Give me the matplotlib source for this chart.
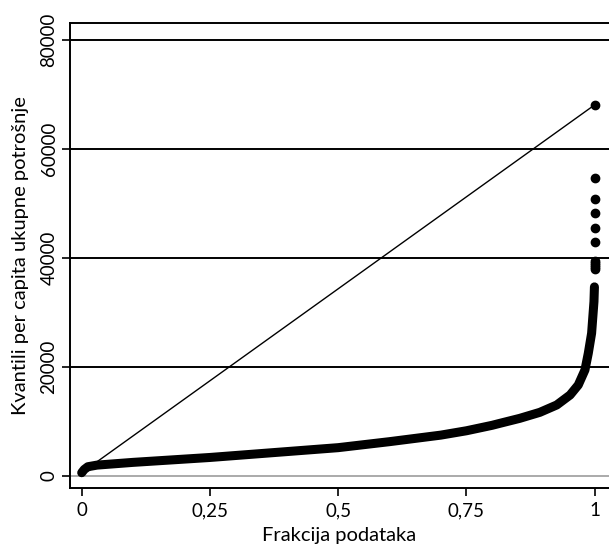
import matplotlib
matplotlib.use("Agg")
import matplotlib.pyplot as plt
import numpy as np

plt.rcParams['font.family'] = ['Lato', 'DejaVu Sans']

# glavna kriva kvantila (ocitano sa slike)
frac = [0.000, 0.005, 0.012, 0.030, 0.100, 0.250, 0.500, 0.600, 0.700,
        0.750, 0.800, 0.815, 0.854, 0.893, 0.926, 0.952, 0.968, 0.981,
        0.9875, 0.994, 0.9986, 0.9995]
kvant = [600, 1200, 1700, 2000, 2500, 3400, 5200, 6300, 7500,
         8300, 9300, 9660, 10580, 11680, 13030, 14860, 16700, 19450,
         22500, 26200, 32000, 34700]

# izdvojene tacke na vrhu raspodele
rep_frac = [1.0, 1.0, 1.0, 1.0, 1.0, 1.0, 1.0, 1.0, 1.0, 1.0, 1.0]
rep_kvant = [37900, 38300, 38700, 39100, 39500, 43000, 45450, 48200,
             50800, 54600, 68100]

y_ticks = [0, 20000, 40000, 60000, 80000]
x_ticks = [0, 0.25, 0.5, 0.75, 1]
x_labels = ['0', '0,25', '0,5', '0,75', '1']

fig = plt.figure(figsize=(6.09, 5.53), dpi=100)
ax = fig.add_axes([70 / 609, 65 / 553, 539 / 609, 465 / 553])

for v in y_ticks[1:]:
    ax.axhline(v, color='black', lw=1.4, zorder=1)
ax.axhline(0, color='#aaaaaa', lw=1.4, zorder=1)

# referentna linija od min do max
ax.plot([0, 1], [kvant[0], rep_kvant[-1]], color='black', lw=1.0, zorder=2)

ax.plot(frac, kvant, color='black', lw=6.5, solid_capstyle='round',
        solid_joinstyle='round', zorder=3)
ax.plot(rep_frac, rep_kvant, 'o', color='black', ms=6, zorder=3)

ax.set_xlim(-0.0228, 1.0279)
ax.set_ylim(-2202, 83119)

ax.set_xticks(x_ticks)
ax.set_xticklabels(x_labels)
ax.set_yticks(y_ticks)
ax.set_yticklabels([str(v) for v in y_ticks], rotation=90, va='center')

ax.tick_params(axis='both', length=6, width=1.2, labelsize=13.5, color='black')
ax.tick_params(axis='y', pad=3)
ax.tick_params(axis='x', pad=4)

for s in ['left', 'bottom', 'top']:
    ax.spines[s].set_linewidth(1.4)
ax.spines['right'].set_visible(False)

ax.set_xlabel('Frakcija podataka', fontsize=14.5, labelpad=6)
ax.set_ylabel('Kvantili per capita ukupne potrošnje', fontsize=14.5, labelpad=8)

fig.savefig('out.png', dpi=100)
